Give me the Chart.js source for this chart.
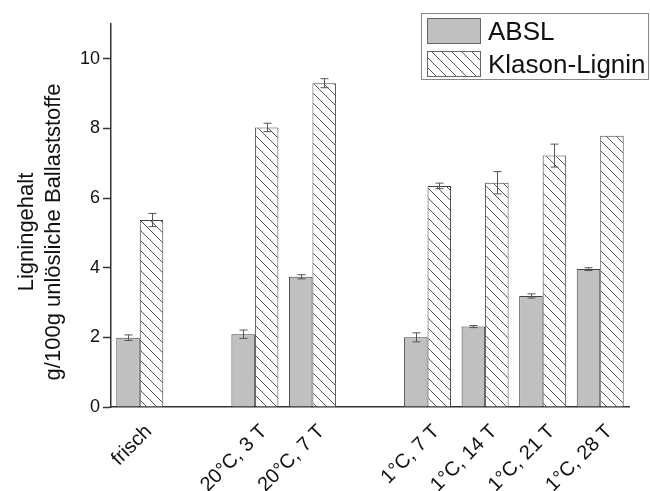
<!DOCTYPE html>
<html>
<head>
<meta charset="utf-8">
<script src="https://cdn.jsdelivr.net/npm/chart.js@4.4.1/dist/chart.umd.min.js"></script>
<style>
  body { margin: 0; background: #fff; }
  #wrap { width: 650px; height: 491px; }
</style>
</head>
<body>
<div id="wrap"><canvas id="ligninChart" width="650" height="491"></canvas></div>
<script>
// empty strings are spacer slots between the storage groups
const categories = ['frisch', '', '20°C, 3 T', '20°C, 7 T', '', '1°C, 7 T', '1°C, 14 T', '1°C, 21 T', '1°C, 28 T'];
const abslValues = [1.99, null, 2.09, 3.74, null, 2.0, 2.31, 3.19, 3.96];
const abslErrors = [0.08, null, 0.12, 0.06, null, 0.13, 0.03, 0.06, 0.04];
const klasonValues = [5.37, null, 8.03, 9.30, null, 6.35, 6.44, 7.22, 7.79];
const klasonErrors = [0.19, null, 0.12, 0.13, null, 0.08, 0.32, 0.33, 0];
const yTicks = [0, 2, 4, 6, 8, 10];
const yTitle = ['Ligningehalt', 'g/100g unlösliche Ballaststoffe'];

const FONT = '"Liberation Sans", Arial, sans-serif';
const TEXT = '#111';
const LINE = '#444';

// diagonal hatch for the Klason bars
const makeHatch = () => {
  const c = document.createElement('canvas');
  c.width = 10;
  c.height = 10;
  const g = c.getContext('2d');
  g.fillStyle = '#fff';
  g.fillRect(0, 0, 10, 10);
  g.strokeStyle = '#555';
  g.lineWidth = 1;
  g.beginPath();
  g.moveTo(-1, -1); g.lineTo(11, 11);
  g.moveTo(-1, 9); g.lineTo(1, 11);
  g.moveTo(9, -1); g.lineTo(11, 1);
  g.stroke();
  return g.createPattern(c, 'repeat');
};
const hatch = makeHatch();

const errorBars = {
  id: 'errorBars',
  afterDatasetsDraw(chart) {
    const ctx = chart.ctx;
    const y = chart.scales.y;
    const errs = [abslErrors, klasonErrors];
    ctx.save();
    ctx.strokeStyle = '#555';
    ctx.lineWidth = 1;
    chart.data.datasets.forEach((ds, di) => {
      const meta = chart.getDatasetMeta(di);
      meta.data.forEach((bar, i) => {
        const v = ds.data[i];
        const e = errs[di][i];
        if (v == null || !e) return;
        const x = Math.round(bar.x) + 0.5;
        const top = y.getPixelForValue(v + e);
        const bot = y.getPixelForValue(v - e);
        ctx.beginPath();
        ctx.moveTo(x, top); ctx.lineTo(x, bot);
        ctx.moveTo(x - 4, top); ctx.lineTo(x + 4, top);
        ctx.moveTo(x - 4, bot); ctx.lineTo(x + 4, bot);
        ctx.stroke();
      });
    });
    ctx.restore();
  }
};

// boxed legend in the top right corner and the two-line y title
const decorations = {
  id: 'decorations',
  afterDraw(chart) {
    const ctx = chart.ctx;
    ctx.save();

    ctx.fillStyle = '#fff';
    ctx.fillRect(421, 13, 228, 67);
    ctx.strokeStyle = '#888';
    ctx.lineWidth = 1;
    ctx.strokeRect(421.5, 13.5, 227, 66);

    chart.data.datasets.forEach((ds, i) => {
      const top = 18 + i * 33;
      ctx.fillStyle = ds.backgroundColor;
      ctx.fillRect(427, top, 54, 26);
      ctx.strokeStyle = '#666';
      ctx.strokeRect(427.5, top + 0.5, 53, 25);
      ctx.fillStyle = TEXT;
      ctx.font = '26px ' + FONT;
      ctx.textBaseline = 'alphabetic';
      ctx.textAlign = 'left';
      ctx.fillText(ds.label, 488, top + 22);
    });

    ctx.translate(0, 232);
    ctx.rotate(-Math.PI / 2);
    ctx.font = '22px ' + FONT;
    ctx.fillStyle = TEXT;
    ctx.textAlign = 'center';
    ctx.fillText(yTitle[0], 0, 33);
    ctx.fillText(yTitle[1], 0, 60);
    ctx.restore();
  }
};

new Chart(document.getElementById('ligninChart'), {
  type: 'bar',
  data: {
    labels: categories,
    datasets: [
      {
        label: 'ABSL',
        data: abslValues,
        backgroundColor: '#c0c0c0',
        borderColor: LINE,
        borderWidth: 1,
        categoryPercentage: 0.816,
        barPercentage: 1
      },
      {
        label: 'Klason-Lignin',
        data: klasonValues,
        backgroundColor: hatch,
        borderColor: LINE,
        borderWidth: 1,
        categoryPercentage: 0.816,
        barPercentage: 1
      }
    ]
  },
  options: {
    responsive: false,
    animation: false,
    layout: { padding: { top: 24, right: 21, left: 0, bottom: 0 } },
    plugins: {
      legend: { display: false },
      tooltip: { enabled: false }
    },
    scales: {
      x: {
        grid: { display: false },
        border: { display: true, color: '#333', width: 1.5 },
        ticks: {
          color: TEXT,
          font: { family: FONT, size: 20 },
          minRotation: 45,
          maxRotation: 45,
          autoSkip: false,
          labelOffset: 9,
          padding: 5
        },
        afterFit: s => { s.height = 84; }
      },
      y: {
        min: 0,
        max: 11,
        grid: { drawOnChartArea: false, tickLength: 8, tickColor: '#333', tickWidth: 1.5 },
        border: { display: true, color: '#333', width: 1.5 },
        ticks: {
          stepSize: 2,
          color: TEXT,
          font: { family: FONT, size: 18 },
          padding: 3
        },
        afterBuildTicks: s => { s.ticks = s.ticks.filter(t => yTicks.includes(t.value)); },
        afterFit: s => { s.width = 111; }
      }
    }
  },
  plugins: [errorBars, decorations]
});
</script>
</body>
</html>
